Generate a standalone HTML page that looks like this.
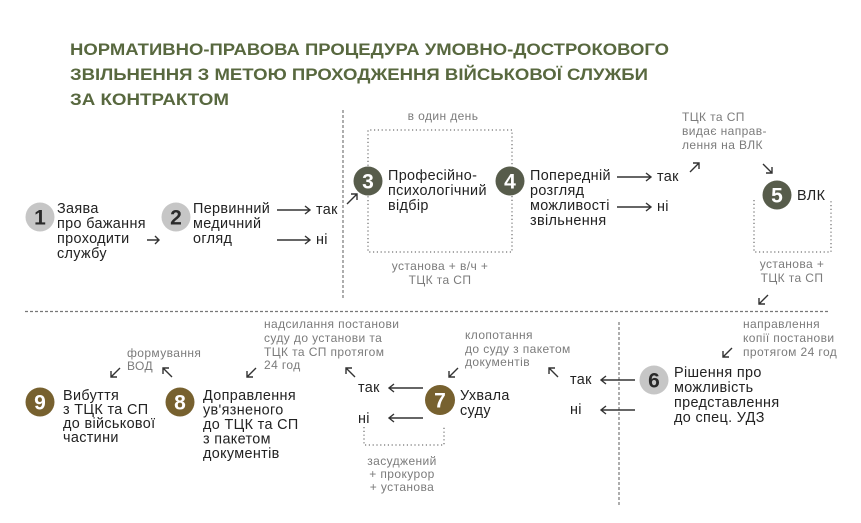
<!DOCTYPE html>
<html><head><meta charset="utf-8">
<style>
html,body{margin:0;padding:0;background:#fff;}
svg{display:block;}
text{font-family:"Liberation Sans","DejaVu Sans",sans-serif;}
.t{font-size:14.4px;fill:#222;letter-spacing:0.35px;}
.a{font-size:12px;fill:#7b7b7b;letter-spacing:0.4px;}
.n{font-size:21px;font-weight:bold;text-anchor:middle;}
.ttl{font-size:17px;font-weight:bold;fill:#58683f;}
.ar{fill:none;stroke:#333;stroke-width:1.4;}
.ds{fill:none;stroke:#777;stroke-width:1.2;stroke-dasharray:3 2;}
.dt{fill:none;stroke:#8a8a8a;stroke-width:1.5;stroke-dasharray:1.2 2.6;}
</style></head>
<body>
<svg width="861" height="523" viewBox="0 0 861 523" xmlns="http://www.w3.org/2000/svg">
<!-- Title -->
<text class="ttl" x="70" y="55" textLength="599" lengthAdjust="spacingAndGlyphs">НОРМАТИВНО-ПРАВОВА ПРОЦЕДУРА УМОВНО-ДОСТРОКОВОГО</text>
<text class="ttl" x="70" y="80" textLength="578" lengthAdjust="spacingAndGlyphs">ЗВІЛЬНЕННЯ З МЕТОЮ ПРОХОДЖЕННЯ ВІЙСЬКОВОЇ СЛУЖБИ</text>
<text class="ttl" x="70" y="105" textLength="159" lengthAdjust="spacingAndGlyphs">ЗА КОНТРАКТОМ</text>

<!-- separators -->
<line class="ds" x1="343" y1="110" x2="343" y2="300"/>
<line class="ds" x1="25" y1="311.5" x2="830" y2="311.5"/>
<line class="ds" x1="619" y1="322" x2="619" y2="506"/>

<!-- dotted boxes -->
<polyline class="dt" points="368,181 368,130 512,130 512,181"/>
<polyline class="dt" points="368,181 368,252 512,252 512,181"/>
<polyline class="dt" points="754,200 754,252 831,252 831,200"/>
<polyline class="dt" points="364,427 364,445 444,445 444,427"/>

<!-- Step 1 -->
<circle cx="40" cy="217" r="14.5" fill="#c6c6c6"/>
<text class="n" x="40" y="224.5" fill="#2a2a2a">1</text>
<text class="t" x="57" y="213">Заява</text>
<text class="t" x="57" y="228">про бажання</text>
<text class="t" x="57" y="243">проходити</text>
<text class="t" x="57" y="258">службу</text>
<path class="ar" d="M147 240 H159 M155 236 L159 240 L155 244"/>

<!-- Step 2 -->
<circle cx="176" cy="217" r="14.5" fill="#c6c6c6"/>
<text class="n" x="176" y="224.5" fill="#2a2a2a">2</text>
<text class="t" x="193" y="213">Первинний</text>
<text class="t" x="193" y="228">медичний</text>
<text class="t" x="193" y="243">огляд</text>
<path class="ar" d="M277 210 H310 M305 206 L310 210 L305 214"/>
<path class="ar" d="M277 240 H310 M305 236 L310 240 L305 244"/>
<text class="t" x="316" y="214">так</text>
<text class="t" x="316" y="244">ні</text>
<path class="ar" d="M347 204 L357 194 M351 194 L357 194 L357 200"/>

<!-- Step 3 -->
<text class="a" x="443" y="120" text-anchor="middle">в один день</text>
<circle cx="368" cy="181" r="14.5" fill="#575c4b"/>
<text class="n" x="368" y="188.5" fill="#fff">3</text>
<text class="t" x="388" y="180">Професійно-</text>
<text class="t" x="388" y="195">психологічний</text>
<text class="t" x="388" y="210">відбір</text>
<text class="a" x="440" y="270" text-anchor="middle">установа + в/ч +</text>
<text class="a" x="440" y="284" text-anchor="middle">ТЦК та СП</text>

<!-- Step 4 -->
<circle cx="510" cy="181" r="14.5" fill="#575c4b"/>
<text class="n" x="510" y="188.5" fill="#fff">4</text>
<text class="t" x="530" y="180">Попередній</text>
<text class="t" x="530" y="195">розгляд</text>
<text class="t" x="530" y="210">можливості</text>
<text class="t" x="530" y="225">звільнення</text>
<path class="ar" d="M617 177 H651 M646 173 L651 177 L646 181"/>
<path class="ar" d="M617 207 H651 M646 203 L651 207 L646 211"/>
<text class="t" x="657" y="181">так</text>
<text class="t" x="657" y="211">ні</text>
<path class="ar" d="M690 172 L699 163 M693 163 L699 163 L699 169"/>

<!-- annotation top right -->
<text class="a" x="682" y="121">ТЦК та СП</text>
<text class="a" x="682" y="135">видає направ-</text>
<text class="a" x="682" y="149">лення на ВЛК</text>
<path class="ar" d="M763 164 L772 173 M766 173 L772 173 L772 167"/>

<!-- Step 5 -->
<circle cx="777" cy="195" r="14.5" fill="#575c4b"/>
<text class="n" x="777" y="202.5" fill="#fff">5</text>
<text class="t" x="797" y="200">ВЛК</text>
<text class="a" x="792" y="268" text-anchor="middle">установа +</text>
<text class="a" x="792" y="282" text-anchor="middle">ТЦК та СП</text>
<path class="ar" d="M768 295 L759 304 M759 298 L759 304 L765 304"/>

<!-- Step 6 -->
<text class="a" x="743" y="328">направлення</text>
<text class="a" x="743" y="342">копії постанови</text>
<text class="a" x="743" y="356">протягом 24 год</text>
<path class="ar" d="M732 348 L723 357 M723 351 L723 357 L729 357"/>
<circle cx="654" cy="380" r="14.5" fill="#c6c6c6"/>
<text class="n" x="654" y="387.5" fill="#2a2a2a">6</text>
<text class="t" x="674" y="377">Рішення про</text>
<text class="t" x="674" y="392">можливість</text>
<text class="t" x="674" y="407">представлення</text>
<text class="t" x="674" y="422">до спец. УДЗ</text>
<path class="ar" d="M635 380 H601 M606 376 L601 380 L606 384"/>
<path class="ar" d="M635 410 H601 M606 406 L601 410 L606 414"/>
<text class="t" x="570" y="384">так</text>
<text class="t" x="570" y="414">ні</text>
<path class="ar" d="M558 377 L549 368 M549 374 L549 368 L555 368"/>

<!-- Step 7 -->
<text class="a" x="465" y="339">клопотання</text>
<text class="a" x="465" y="353">до суду з пакетом</text>
<text class="a" x="465" y="366">документів</text>
<path class="ar" d="M458 368 L449 377 M449 371 L449 377 L455 377"/>
<circle cx="440" cy="400" r="15" fill="#77612f"/>
<text class="n" x="440" y="407.5" fill="#fff">7</text>
<text class="t" x="460" y="400">Ухвала</text>
<text class="t" x="460" y="415">суду</text>
<path class="ar" d="M423 388 H389 M394 384 L389 388 L394 392"/>
<path class="ar" d="M423 418 H389 M394 414 L389 418 L394 422"/>
<text class="t" x="358" y="392">так</text>
<text class="t" x="358" y="423">ні</text>
<text class="a" x="402" y="465" text-anchor="middle">засуджений</text>
<text class="a" x="402" y="478" text-anchor="middle">+ прокурор</text>
<text class="a" x="402" y="491" text-anchor="middle">+ установа</text>
<path class="ar" d="M355 377 L346 368 M346 374 L346 368 L352 368"/>

<!-- Step 8 -->
<text class="a" x="264" y="328">надсилання постанови</text>
<text class="a" x="264" y="342">суду до установи та</text>
<text class="a" x="264" y="356">ТЦК та СП протягом</text>
<text class="a" x="264" y="369">24 год</text>
<path class="ar" d="M256 368 L247 377 M247 371 L247 377 L253 377"/>
<circle cx="180" cy="402" r="14.5" fill="#77612f"/>
<text class="n" x="180" y="409.5" fill="#fff">8</text>
<text class="t" x="203" y="400">Доправлення</text>
<text class="t" x="203" y="414.5">ув'язненого</text>
<text class="t" x="203" y="429">до ТЦК та СП</text>
<text class="t" x="203" y="443.5">з пакетом</text>
<text class="t" x="203" y="458">документів</text>

<!-- Step 9 -->
<text class="a" x="127" y="357">формування</text>
<text class="a" x="127" y="370">ВОД</text>
<path class="ar" d="M120 368 L111 377 M111 371 L111 377 L117 377"/>
<path class="ar" d="M172 377 L163 368 M163 374 L163 368 L169 368"/>
<circle cx="40" cy="402" r="14.5" fill="#77612f"/>
<text class="n" x="40" y="409.5" fill="#fff">9</text>
<text class="t" x="63" y="400">Вибуття</text>
<text class="t" x="63" y="414">з ТЦК та СП</text>
<text class="t" x="63" y="428">до військової</text>
<text class="t" x="63" y="442">частини</text>
</svg>
</body></html>
